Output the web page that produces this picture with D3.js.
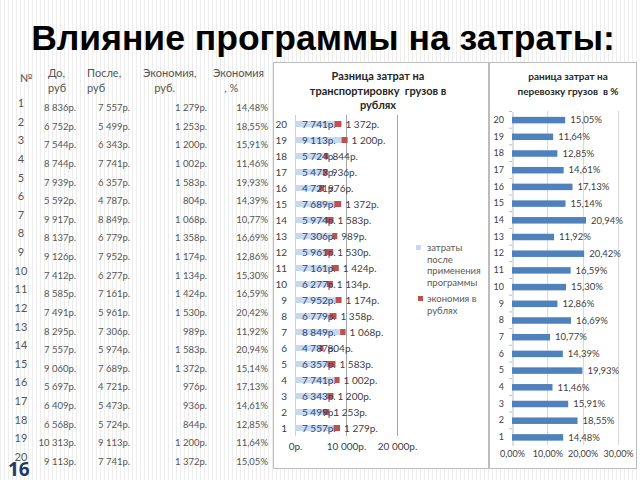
<!DOCTYPE html>
<html>
<head>
<meta charset="utf-8">
<script src="https://cdn.jsdelivr.net/npm/d3@7"></script>
<style>
  body { margin: 0; background: #fff; }
  svg { display: block; }
  text { font-family: Lato, "Open Sans", sans-serif; }
</style>
</head>
<body>
<div id="slide"></div>
<script>
// data
var rows    = [1, 2, 3, 4, 5, 6, 7, 8, 9, 10, 11, 12, 13, 14, 15, 16, 17, 18, 19, 20];
var before  = [8836, 6752, 7544, 8744, 7939, 5592, 9917, 8137, 9126, 7412, 8585, 7491, 8295, 7557, 9060, 5697, 6409, 6568, 10313, 9113];
var after   = [7557, 5499, 6343, 7741, 6357, 4787, 8849, 6779, 7952, 6277, 7161, 5961, 7306, 5974, 7689, 4721, 5473, 5724, 9113, 7741];
var savings = [1279, 1253, 1200, 1002, 1583, 804, 1068, 1358, 1174, 1134, 1424, 1530, 989, 1583, 1372, 976, 936, 844, 1200, 1372];
var percent = [14.48, 18.55, 15.91, 11.46, 19.93, 14.39, 10.77, 16.69, 12.86, 15.30, 16.59, 20.42, 11.92, 20.94, 15.14, 17.13, 14.61, 12.85, 11.64, 15.05];

var rubTicks = [0, 10000, 20000];
var pctTicks = [0, 10, 20, 30];

var ru = d3.formatLocale({decimal: ",", thousands: " ", grouping: [3], currency: ["", "р."]});
var fRub = function (v) { return ru.format(",")(v) + "р."; };
var fPct = function (v) { return ru.format(".2f")(v) + "%"; };

var W = 640, H = 480;
var svg = d3.select("#slide").append("svg")
    .attr("width", W)
    .attr("height", H);

// striped slide background
var pat = svg.append("defs").append("pattern")
    .attr("id", "stripes")
    .attr("width", 4).attr("height", 4)
    .attr("patternUnits", "userSpaceOnUse");
pat.append("rect").attr("width", 4).attr("height", 4).attr("fill", "#ffffff");
pat.append("rect").attr("width", 1).attr("height", 4).attr("fill", "#ededed");
svg.append("rect").attr("width", W).attr("height", H).attr("fill", "url(#stripes)");

// title
svg.append("text")
    .attr("x", 323)
    .attr("y", 50)
    .attr("text-anchor", "middle")
    .style("font-family", "'Liberation Sans', Arial, sans-serif")
    .style("font-weight", "bold")
    .style("font-size", "35.5px")
    .attr("fill", "#000")
    .text("Влияние программы на затраты:");

// ---------- table ----------
var tY = d3.scalePoint().domain(rows).range([103, 457]);
var table = svg.append("g").attr("fill", "#555");

var headers = [
    {x: 20, lines: ["№"], y: 82},
    {x: 48, lines: ["До,", "руб"]},
    {x: 87, lines: ["После,", "руб"]},
    {x: 143, lines: ["Экономия,", "    руб."]},
    {x: 213, lines: ["Экономия", "    , %"]}
];
headers.forEach(function (h) {
    h.lines.forEach(function (l, i) {
        table.append("text")
            .attr("x", h.x)
            .attr("y", (h.y || 77) + i * 15)
            .style("font-size", "11px")
            .style("white-space", "pre")
            .attr("xml:space", "preserve")
            .text(l);
    });
});

table.selectAll(".num").data(rows).enter().append("text")
    .attr("x", 21)
    .attr("y", function (d) { return tY(d) + 4; })
    .attr("text-anchor", "middle")
    .style("font-size", "11px")
    .text(function (d) { return d; });

var cols = [
    {x: 76, vals: before, f: fRub},
    {x: 130, vals: after, f: fRub},
    {x: 207, vals: savings, f: fRub},
    {x: 268, vals: percent, f: fPct}
];
cols.forEach(function (c) {
    table.selectAll(null).data(rows).enter().append("text")
        .attr("x", c.x)
        .attr("y", function (d) { return tY(d) + 8; })
        .attr("text-anchor", "end")
        .style("font-size", "9.5px")
        .text(function (d, i) { return c.f(c.vals[i]); });
});

// "16" slide number
svg.append("text")
    .attr("x", 8)
    .attr("y", 476)
    .style("font-family", "'Open Sans', sans-serif")
    .style("font-weight", "bold")
    .style("font-size", "19px")
    .attr("fill", "#1f3864")
    .text("16");

// ---------- left chart: roubles ----------
svg.append("rect")
    .attr("x", 273.5).attr("y", 62.5)
    .attr("width", 215).attr("height", 406)
    .attr("fill", "#fff").attr("stroke", "#bcbcbc");

var left = svg.append("g");
left.selectAll(".t").data(["Разница затрат на", "транспортировку  грузов в", "рублях"])
    .enter().append("text")
    .attr("x", 378)
    .attr("y", function (d, i) { return 80 + i * 14.5; })
    .attr("text-anchor", "middle")
    .style("font-weight", "bold")
    .style("font-size", "11px")
    .style("white-space", "pre")
    .attr("fill", "#262626")
    .text(function (d) { return d; });

var xL = d3.scaleLinear().domain([0, 20000]).range([295, 397]);
var yL = d3.scaleBand().domain(rows.slice().reverse()).range([116, 436]);

// gridlines
left.selectAll(".g").data(rubTicks).enter().append("line")
    .attr("x1", function (d) { return xL(d) + 0.5; })
    .attr("x2", function (d) { return xL(d) + 0.5; })
    .attr("y1", 115).attr("y2", 436)
    .attr("stroke", function (d) { return d === 0 ? "#d0d0d0" : "#a6a6a6"; });

var barH = 6;
left.selectAll(".after").data(rows).enter().append("rect")
    .attr("x", xL(0))
    .attr("y", function (d) { return yL(d) + yL.bandwidth() / 2 - barH / 2; })
    .attr("width", function (d, i) { return xL(after[i]) - xL(0); })
    .attr("height", barH)
    .attr("fill", "#c6d9f1");

left.selectAll(".sav").data(rows).enter().append("rect")
    .attr("x", function (d, i) { return xL(after[i]); })
    .attr("y", function (d) { return yL(d) + yL.bandwidth() / 2 - barH / 2; })
    .attr("width", function (d, i) { return xL(after[i] + savings[i]) - xL(after[i]); })
    .attr("height", barH)
    .attr("fill", "#c0504d");

left.selectAll(".la").data(rows).enter().append("text")
    .attr("x", xL(0) + 7)
    .attr("y", function (d) { return yL(d) + yL.bandwidth() / 2 + 3.5; })
    .style("font-size", "10px")
    .attr("fill", "#1f497d")
    .text(function (d, i) { return fRub(after[i]); });

left.selectAll(".ls").data(rows).enter().append("text")
    .attr("x", function (d, i) { return xL(after[i] + savings[i]) + 4; })
    .attr("y", function (d) { return yL(d) + yL.bandwidth() / 2 + 3.5; })
    .style("font-size", "10px")
    .attr("fill", "#404040")
    .text(function (d, i) { return fRub(savings[i]); });

left.selectAll(".cat").data(rows).enter().append("text")
    .attr("x", 287)
    .attr("y", function (d) { return yL(d) + yL.bandwidth() / 2 + 3.5; })
    .attr("text-anchor", "end")
    .style("font-size", "10px")
    .attr("fill", "#404040")
    .text(function (d) { return d; });

left.append("g")
    .attr("transform", "translate(0,440)")
    .call(d3.axisBottom(xL).tickValues(rubTicks).tickSize(0).tickFormat(fRub))
    .call(function (g) { g.select(".domain").remove(); })
    .selectAll("text")
    .style("font-family", "Lato, sans-serif")
    .style("font-size", "10px")
    .attr("fill", "#404040");

// legend
var lg = left.append("g").attr("fill", "#595959").style("font-size", "9.5px");
lg.append("rect").attr("x", 416).attr("y", 245).attr("width", 5).attr("height", 5).attr("fill", "#c6d9f1");
["затраты", "после", "применения", "программы"].forEach(function (t, i) {
    lg.append("text").attr("x", 427).attr("y", 251 + i * 11.5).text(t);
});
lg.append("rect").attr("x", 418).attr("y", 296).attr("width", 5).attr("height", 5).attr("fill", "#c0504d");
["экономия в", "рублях"].forEach(function (t, i) {
    lg.append("text").attr("x", 427).attr("y", 302 + i * 11.5).text(t);
});

// ---------- right chart: percent ----------
svg.append("rect")
    .attr("x", 489.5).attr("y", 62.5)
    .attr("width", 147).attr("height", 406)
    .attr("fill", "#fff").attr("stroke", "#bcbcbc");

var right = svg.append("g");
right.selectAll(".t").data(["раница затрат на", "перевозку грузов  в %"])
    .enter().append("text")
    .attr("x", 568)
    .attr("y", function (d, i) { return 80 + i * 14.5; })
    .attr("text-anchor", "middle")
    .style("font-weight", "bold")
    .style("font-size", "10px")
    .style("white-space", "pre")
    .attr("fill", "#262626")
    .text(function (d) { return d; });

var xR = d3.scaleLinear().domain([0, 30]).range([512, 618]);
var yR = d3.scaleBand().domain(rows.slice().reverse()).range([111.5, 445.5]);

right.selectAll(".g").data(pctTicks.slice(1)).enter().append("line")
    .attr("x1", function (d) { return Math.round(xR(d)) + 0.5; })
    .attr("x2", function (d) { return Math.round(xR(d)) + 0.5; })
    .attr("y1", 111).attr("y2", 445)
    .attr("stroke", "#d9d9d9");

right.append("g")
    .attr("transform", "translate(" + (xR(0) + 0.5) + ",0)")
    .call(d3.axisLeft(yR).tickSize(0).tickFormat(""))
    .call(function (g) { g.select(".domain").attr("stroke", "#bfbfbf"); });
// small category boundary ticks
right.selectAll(".tk").data(rows).enter().append("line")
    .attr("x1", xR(0) - 3).attr("x2", xR(0))
    .attr("y1", function (d) { return yR(d); })
    .attr("y2", function (d) { return yR(d); })
    .attr("stroke", "#bfbfbf");

right.selectAll(".bar").data(rows).enter().append("rect")
    .attr("x", xR(0))
    .attr("y", function (d) { return yR(d) + yR.bandwidth() / 2 - 3; })
    .attr("width", function (d, i) { return xR(percent[i]) - xR(0); })
    .attr("height", 6.5)
    .attr("fill", "#4f81bd");

right.selectAll(".v").data(rows).enter().append("text")
    .attr("x", function (d, i) { return xR(percent[i]) + 5; })
    .attr("y", function (d) { return yR(d) + yR.bandwidth() / 2 + 3.5; })
    .style("font-size", "9.5px")
    .attr("fill", "#404040")
    .text(function (d, i) { return fPct(percent[i]); });

right.selectAll(".cat").data(rows).enter().append("text")
    .attr("x", 504)
    .attr("y", function (d) { return yR(d) + yR.bandwidth() / 2 + 3; })
    .attr("text-anchor", "end")
    .style("font-size", "9px")
    .attr("fill", "#404040")
    .text(function (d) { return d; });

right.append("g")
    .attr("transform", "translate(0,448)")
    .call(d3.axisBottom(xR).tickValues(pctTicks).tickSize(0).tickFormat(fPct))
    .call(function (g) { g.select(".domain").remove(); })
    .selectAll("text")
    .style("font-family", "Lato, sans-serif")
    .style("font-size", "9px")
    .attr("fill", "#404040");
</script>
</body>
</html>
